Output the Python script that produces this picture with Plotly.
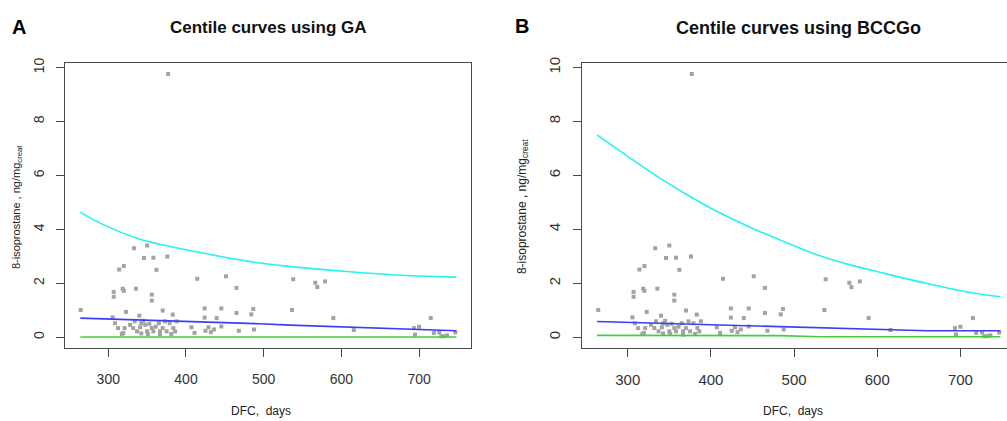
import plotly.graph_objects as go

W, H = 1007, 421

# ---------------- data ----------------
dfc_days = [264.5, 333, 350, 346, 358, 376, 314, 320, 362, 307, 307, 318.5, 320, 335.6, 356, 356,
            414.5, 451.5, 465, 322.8, 305.6, 340, 370, 383, 424, 445.5, 439.5, 465, 484, 486.6, 424,
            308.6, 312.5, 321, 319.3, 328, 332, 334, 337, 341, 342.5, 345, 347.6, 350, 352.8, 356,
            358, 361, 365, 366.5, 370, 373, 375, 379, 383.7, 386, 388, 407, 411, 425, 429, 432, 436,
            445.5, 468, 487.5, 317.5, 342.5, 351, 366.5, 381,
            377, 538, 566.4, 569, 579, 536.4, 589.6, 616, 693.4, 700, 694.7, 715, 719, 726, 728.6,
            732, 736, 746.6]
isoprostane = [1.01, 3.30, 3.40, 2.94, 2.95, 2.99, 2.51, 2.64, 2.50, 1.68, 1.50, 1.80, 1.72, 1.80, 1.58, 1.36,
               2.17, 2.26, 1.83, 0.94, 0.74, 0.80, 0.99, 0.84, 1.07, 1.07, 0.71, 0.90, 0.85, 1.05, 0.73,
               0.52, 0.34, 0.34, 0.16, 0.46, 0.34, 0.59, 0.22, 0.37, 0.52, 0.61, 0.46, 0.22, 0.50, 0.34,
               0.22, 0.39, 0.52, 0.22, 0.34, 0.59, 0.22, 0.52, 0.34, 0.22, 0.59, 0.37, 0.16, 0.24, 0.37, 0.19, 0.29,
               0.40, 0.24, 0.29, 0.12, 0.14, 0.12, 0.10, 0.12,
               9.76, 2.15, 2.02, 1.86, 2.07, 1.01, 0.71, 0.27, 0.34, 0.39, 0.10, 0.71, 0.16, 0.18, 0.04,
               0.04, 0.07, 0.18]

ga_x = [264, 289, 341, 418, 495, 534, 607, 684, 748]
ga_upper = [4.64, 4.24, 3.63, 3.14, 2.75, 2.62, 2.44, 2.29, 2.23]
ga_median = [0.71, 0.69, 0.65, 0.58, 0.50, 0.45, 0.37, 0.30, 0.24]
ga_lower = [0.01, 0.01, 0.01, 0.01, 0.01, 0.01, 0.01, 0.01, 0.01]

bc_x = [263, 303, 339, 375, 407, 447, 483, 531, 563, 603, 660, 708, 748]
bc_upper = [7.50, 6.64, 5.89, 5.22, 4.67, 4.08, 3.61, 3.02, 2.72, 2.41, 1.99, 1.68, 1.50]
bc_median = [0.585, 0.55, 0.52, 0.47, 0.44, 0.42, 0.40, 0.35, 0.32, 0.28, 0.24, 0.24, 0.24]
bc_lower = [0.07, 0.07, 0.07, 0.06, 0.06, 0.06, 0.06, 0.02, 0.02, 0.02, 0.02, 0.02, 0.02]

x_ticks = [300, 400, 500, 600, 700]
y_ticks = [0, 2, 4, 6, 8, 10]
titles = ["Centile curves using GA", "Centile curves using BCCGo"]
panel_letters = ["A", "B"]
x_title = "DFC,  days"
y_title = "8-isoprostane , ng/mg<sub>creat</sub>"

# ---------------- styling ----------------
FONT = "Liberation Sans, Arial, sans-serif"
POINT_C = "#a3a3a3"
CYAN = "#22f4f4"
BLUE = "#3c3cff"
GREEN = "#3fd03f"
AXIS_C = "#4a4a4a"

fig = go.Figure()

for (xa, ya), cx, up, md, lo in [(("x", "y"), ga_x, ga_upper, ga_median, ga_lower),
                                  (("x2", "y2"), bc_x, bc_upper, bc_median, bc_lower)]:
    fig.add_trace(go.Scatter(x=dfc_days, y=isoprostane, mode="markers", xaxis=xa, yaxis=ya,
                             marker=dict(symbol="square", size=4, color=POINT_C, line=dict(width=0)),
                             showlegend=False, hoverinfo="skip"))
    fig.add_trace(go.Scatter(x=cx, y=lo, mode="lines", xaxis=xa, yaxis=ya,
                             line=dict(color=GREEN, width=1.6), showlegend=False))
    fig.add_trace(go.Scatter(x=cx, y=md, mode="lines", xaxis=xa, yaxis=ya,
                             line=dict(color=BLUE, width=1.6), showlegend=False))
    fig.add_trace(go.Scatter(x=cx, y=up, mode="lines", xaxis=xa, yaxis=ya,
                             line=dict(color=CYAN, width=1.6, shape="spline"), showlegend=False))

ydom = [1 - 347 / H, 1 - 58 / H]

common_x = dict(tickvals=x_ticks, ticks="outside", ticklen=8, tickcolor=AXIS_C, tickwidth=1,
                showline=True, linecolor=AXIS_C, linewidth=1, showgrid=False, zeroline=False)
common_y = dict(tickvals=y_ticks, ticks="outside", ticklen=8, tickcolor=AXIS_C, tickwidth=1,
                showline=True, linecolor=AXIS_C, linewidth=1, showgrid=False, zeroline=False,
                tickangle=-90, range=[-0.40, 10.16])

fig.update_layout(
    width=W, height=H,
    margin=dict(l=0, r=0, t=0, b=0),
    paper_bgcolor="white", plot_bgcolor="white",
    xaxis=dict(common_x, domain=[65 / W, 471 / W], range=[244.3, 766.8], mirror=True,
               anchor="y", tickfont=dict(family=FONT, size=14, color="#333333"), ticklabelstandoff=10),
    yaxis=dict(common_y, domain=ydom, anchor="x", mirror=True,
               tickfont=dict(family=FONT, size=14, color="#333333"), ticklabelstandoff=6),
    xaxis2=dict(common_x, domain=[582 / W, 1.0], range=[245, 756], mirror=True,
                anchor="y2", tickfont=dict(family=FONT, size=15, color="#333333"), ticklabelstandoff=10),
    yaxis2=dict(common_y, domain=ydom, anchor="x2", mirror=False,
                tickfont=dict(family=FONT, size=15, color="#333333"), ticklabelstandoff=7),
)

def ann(text, px, py, size, bold=False, angle=0, color="#111111"):
    fig.add_annotation(text=f"<b>{text}</b>" if bold else text, xref="paper", yref="paper",
                       x=px / W, y=1 - py / H, xanchor="center", yanchor="middle",
                       showarrow=False, textangle=angle,
                       font=dict(family=FONT, size=size, color=color))

ann(panel_letters[0], 19, 21, 20, bold=True, color="#000000")
ann(panel_letters[1], 522, 20, 20, bold=True, color="#000000")
ann(titles[0], 268, 22, 17, bold=True)
ann(titles[1], 798, 22, 18, bold=True)
ann(x_title, 261, 411, 12, color="#222222")
ann(x_title, 793, 411, 12, color="#222222")
ann(y_title, 17, 204, 11, angle=-90, color="#222222")
ann(y_title, 523, 204, 12, angle=-90, color="#222222")

fig.write_html("out.html")
